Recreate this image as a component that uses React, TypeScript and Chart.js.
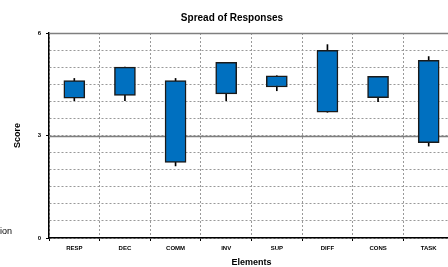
import React, { useEffect, useRef } from "react";
import { Chart, registerables } from "chart.js";

Chart.register(...registerables);

const categories = ["RESP", "DEC", "COMM", "INV", "SUP", "DIFF", "CONS", "TASK"];
const boxLow = [4.09, 4.17, 2.21, 4.22, 4.42, 3.68, 4.11, 2.79];
const boxHigh = [4.61, 5.0, 4.61, 5.14, 4.75, 5.49, 4.73, 5.2];
const whiskerLow = [4.02, 4.02, 2.11, 4.02, 4.31, 3.68, 3.99, 2.69];
const whiskerHigh = [4.67, 5.0, 4.67, 5.14, 4.75, 5.66, 4.73, 5.31];
const yTickLabels = [0, 3, 6];
const solidLines = [3, 6];

const FONT = "'Liberation Sans', Arial, sans-serif";

const extrasPlugin = {
  id: "extras",
  beforeDatasetsDraw(chart: any) {
    const { ctx, chartArea, scales } = chart;
    const y = scales.y;
    ctx.save();
    ctx.strokeStyle = "#7f7f7f";
    ctx.lineWidth = 1.5;
    ctx.setLineDash([]);
    for (const v of solidLines) {
      const py = Math.round(y.getPixelForValue(v)) + 0.5;
      ctx.beginPath();
      ctx.moveTo(chartArea.left, py);
      ctx.lineTo(chartArea.right, py);
      ctx.stroke();
    }
    ctx.restore();
  },
  afterDraw(chart: any) {
    const { ctx } = chart;
    ctx.save();
    ctx.fillStyle = "#000";
    ctx.font = `9px ${FONT}`;
    ctx.textBaseline = "middle";
    ctx.textAlign = "left";
    ctx.fillText("ion", 0, 232);
    ctx.restore();
  },
};

export default function App() {
  const ref = useRef<HTMLCanvasElement | null>(null);
  useEffect(() => {
    if (!ref.current) return;
    const chart = new Chart(ref.current, {
      type: "bar",
      data: {
        labels: categories,
        datasets: [
          {
            label: "Range",
            data: categories.map((_, i) => [boxLow[i], boxHigh[i]]) as any,
            backgroundColor: "#0070C0",
            borderColor: "#1a1a1a",
            borderWidth: 1.5,
            borderSkipped: false,
            barThickness: 21,
          },
          {
            label: "Whisker",
            data: categories.map((_, i) => [whiskerLow[i], whiskerHigh[i]]) as any,
            backgroundColor: "#000",
            borderWidth: 0,
            barThickness: 1,
          },
        ],
      },
      plugins: [extrasPlugin],
      options: {
        animation: false,
        responsive: false,
        devicePixelRatio: 1,
        layout: { padding: 0 },
        plugins: {
          legend: { display: false },
          tooltip: { enabled: false },
          title: {
            display: true,
            text: "Spread of Responses",
            color: "#000",
            font: { family: FONT, size: 10, weight: "bold", lineHeight: 1.2 },
            padding: { top: 12, bottom: 9 },
          },
        },
        scales: {
          x: {
            type: "category",
            stacked: true,
            offset: true,
            afterFit: (s: any) => {
              s.height = 29;
            },
            grid: {
              offset: true,
              color: "#999999",
              lineWidth: 1,
              tickColor: "#000",
              tickLength: 3,
            },
            border: { display: true, color: "#000", width: 1.5, dash: [2, 2] },
            ticks: {
              color: "#000",
              font: { family: FONT, size: 6, weight: "bold" },
              padding: 4,
              maxRotation: 0,
              autoSkip: false,
            },
            title: {
              display: true,
              text: "Elements",
              color: "#000",
              font: { family: FONT, size: 9, weight: "bold", lineHeight: 1 },
              padding: { top: 0, bottom: 0 },
            },
          },
          y: {
            type: "linear",
            min: 0,
            max: 6,
            afterFit: (s: any) => {
              s.width = 49;
            },
            grid: {
              color: "#999999",
              lineWidth: 1,
              tickColor: (c: any) => (yTickLabels.includes(c.tick?.value) ? "#000" : "rgba(0,0,0,0)"),
              tickLength: 3,
            },
            border: { display: true, color: "#000", width: 1.5, dash: [2, 2] },
            ticks: {
              stepSize: 0.5,
              maxTicksLimit: 20,
              autoSkip: false,
              color: "#000",
              padding: 5,
              font: { family: FONT, size: 6, weight: "bold" },
              callback: (v: any) => (yTickLabels.includes(Number(v)) ? String(v) : ""),
            },
            title: {
              display: true,
              text: "Score",
              color: "#000",
              font: { family: FONT, size: 9, weight: "bold", lineHeight: 1.2 },
              padding: { top: 12.6, bottom: 0 },
            },
          },
          y2: {
            type: "linear",
            position: "right",
            display: true,
            min: 0,
            max: 6,
            afterFit: (s: any) => {
              s.width = 10;
            },
            grid: { display: false, drawOnChartArea: false },
            border: { display: false },
            ticks: { display: false },
          },
        },
      },
    });
    return () => chart.destroy();
  }, []);
  return (
    <div
      style={{
        position: "absolute",
        left: 0,
        top: 0,
        width: 448,
        height: 267,
        overflow: "hidden",
        background: "#fff",
      }}
    >
      <canvas ref={ref} width={464} height={267} style={{ width: 464, height: 267 }} />
    </div>
  );
}
